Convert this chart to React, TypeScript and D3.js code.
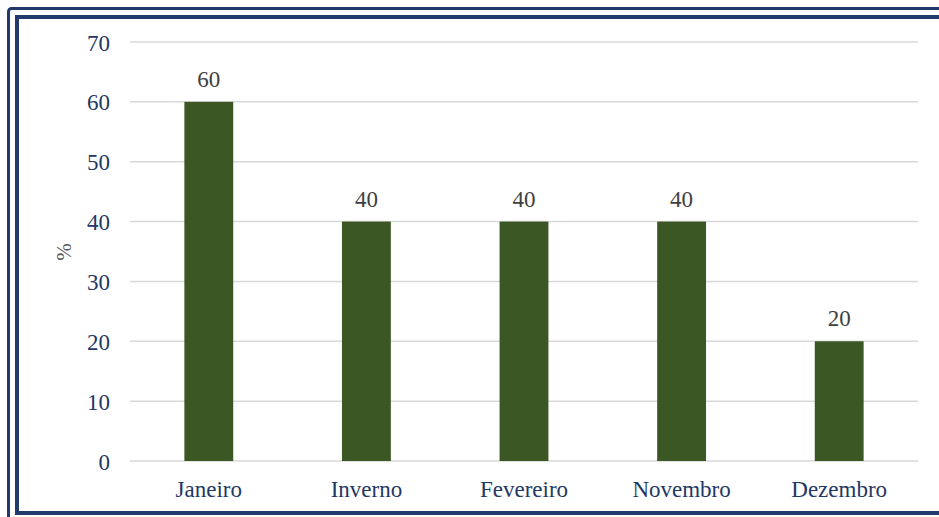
import React from "react";
import * as d3 from "d3";

const categories: string[] = ["Janeiro", "Inverno", "Fevereiro", "Novembro", "Dezembro"];
const values: number[] = [60, 40, 40, 40, 20];
const yTicks: number[] = [0, 10, 20, 30, 40, 50, 60, 70];
const yTitle = "%";

const W = 939;
const H = 517;
const plotLeft = 130;
const plotRight = 918;
const plotTop = 42;
const plotBottom = 461;

export default function App() {
  const x = d3.scaleBand<string>().domain(categories).range([plotLeft, plotRight]).paddingInner(0.69).paddingOuter(0.345);
  const y = d3.scaleLinear().domain([0, 70]).range([plotBottom, plotTop]);
  const font = "Liberation Serif";
  const fs = 23;
  return (
    <svg width={W} height={H} style={{ position: "absolute", left: 0, top: 0, display: "block" }}>
      <rect x={0} y={0} width={W} height={H} fill="#ffffff" />
      {/* double border */}
      <rect x={8.5} y={8.5} width={W + 20} height={H + 20} fill="none" stroke="#1F3A6B" strokeWidth={3} rx={3} />
      <rect x={17} y={17} width={W} height={496} fill="none" stroke="#1F3A6B" strokeWidth={4} />
      {/* gridlines */}
      {yTicks.map((t) => (
        <line key={"g" + t} x1={plotLeft} x2={plotRight} y1={y(t)} y2={y(t)} stroke="#D9D9D9" strokeWidth={1.5} />
      ))}
      <g fontFamily={font}>
        {/* y tick labels */}
        {yTicks.map((t) => (
          <text key={"t" + t} x={110} y={y(t) + 8.5} textAnchor="end" fontSize={fs} fill="#1F3864">
            {t}
          </text>
        ))}
        {/* value labels */}
        {categories.map((c, i) => (
          <text key={"v" + c} x={(x(c) as number) + x.bandwidth() / 2} y={y(values[i]) - 15} textAnchor="middle" fontSize={fs} fill="#404040">
            {values[i]}
          </text>
        ))}
        {/* category labels */}
        {categories.map((c) => (
          <text key={"c" + c} x={(x(c) as number) + x.bandwidth() / 2} y={497} textAnchor="middle" fontSize={fs} fill="#1F3864">
            {c}
          </text>
        ))}
        {/* y title */}
        <text transform={`translate(71, 252) rotate(-90)`} textAnchor="middle" fontSize={21} fill="#595959">
          {yTitle}
        </text>
      </g>
      {/* bars */}
      {categories.map((c, i) => (
        <rect key={"b" + c} x={x(c)} y={y(values[i])} width={x.bandwidth()} height={y(0) - y(values[i])} fill="#3B5724" />
      ))}
    </svg>
  );
}
